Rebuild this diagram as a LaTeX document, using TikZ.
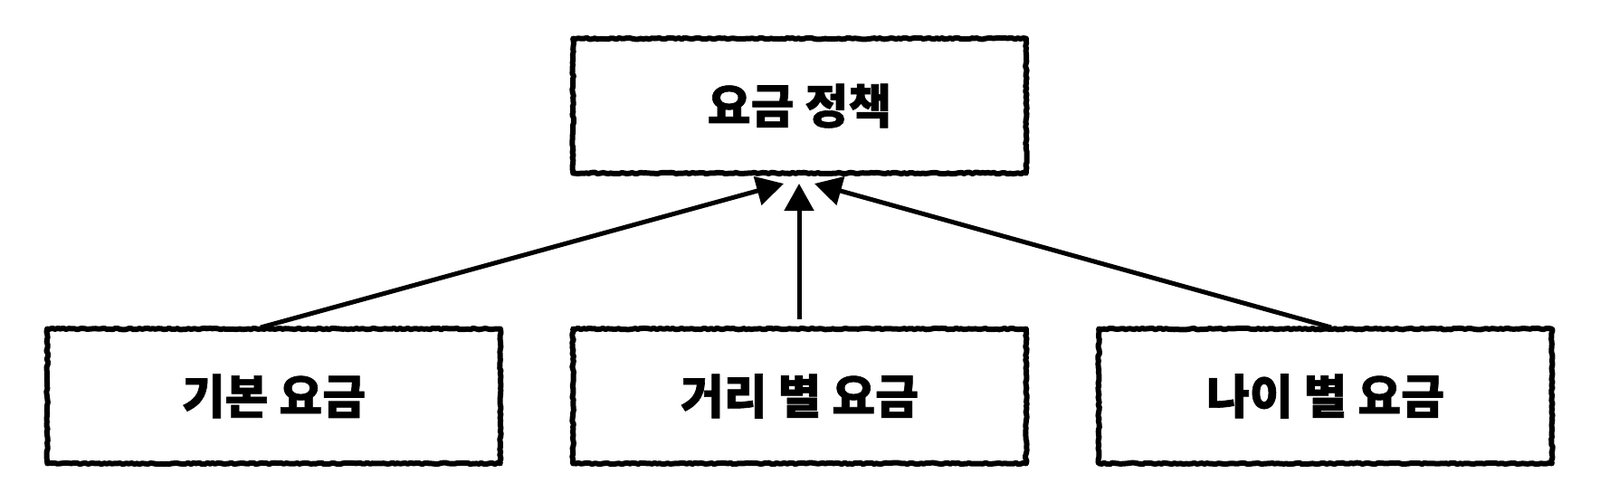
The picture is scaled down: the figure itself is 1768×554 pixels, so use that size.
\documentclass[tikz,border=0pt]{standalone}
\usepackage{fontspec}
\newfontfamily\kr{Noto Sans CJK KR}[UprightFont=* Black,FakeBold=1.2]
\usetikzlibrary{arrows.meta,decorations.pathmorphing}
\begin{document}
\begin{tikzpicture}[x=0.5pt,y=-0.5pt,
  rough/.style={decorate,decoration={random steps,segment length=1.5pt,amplitude=0.4pt}},
  boxnode/.style={draw=none,minimum width=250pt,minimum height=74pt,inner sep=0pt,font=\kr\fontsize{26}{30}\selectfont,
     append after command={\pgfextra{\draw[line width=3pt,rough,line join=round] (\tikzlastnode.north west) rectangle (\tikzlastnode.south east);}}},
  conn/.style={line width=2.5pt,-{Triangle[length=15pt,width=16pt]}}]
\useasboundingbox (0,0) rectangle (1768,554);
\node[boxnode] (top) at (883.5,117) {요금 정책};
\node[boxnode] (b1) at (302.5,438) {기본 요금};
\node[boxnode] (b2) at (883.5,438) {거리 별 요금};
\node[boxnode] (b3) at (1464.5,438) {나이 별 요금};
\coordinate (s1) at (288,362);
\coordinate (s2) at (883,353);
\coordinate (s3) at (1471,362);
\coordinate (t1) at (866,203);
\coordinate (t2) at (883,203);
\coordinate (t3) at (900,203);
\draw[conn] (s1) -- (t1);
\draw[conn] (s2) -- (t2);
\draw[conn] (s3) -- (t3);
\end{tikzpicture}
\end{document}
